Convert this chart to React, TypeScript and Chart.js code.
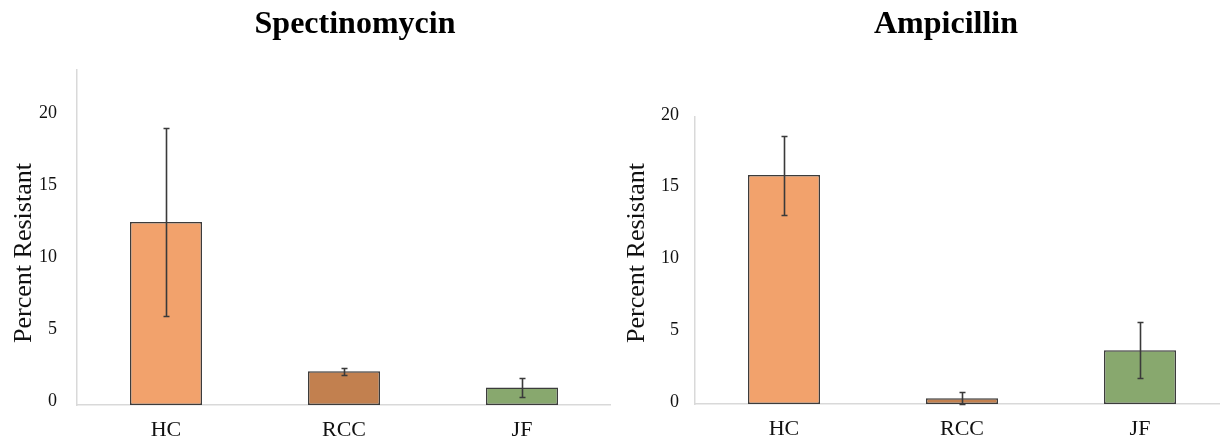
import React, { useEffect, useRef } from 'react';
import { Chart, registerables } from 'chart.js';

Chart.register(...registerables);

const FONT = "'Liberation Serif', 'Times New Roman', serif";

const categories = ['HC', 'RCC', 'JF'];
const spectinomycinMeans = [12.7, 2.35, 1.22];
const spectinomycinErrors = [6.5, 0.25, 0.65];
const ampicillinMeans = [15.95, 0.4, 3.75];
const ampicillinErrors = [2.75, 0.42, 1.95];
const barColors = ['#F2A26C', '#C2804F', '#88A86E'];
const yTickValues = [0, 5, 10, 15, 20];
const yAxisTitle = 'Percent Resistant';

const errorBarPlugin = {
  id: 'errorBars',
  afterDatasetsDraw(chart: any) {
    const { ctx } = chart;
    const y = chart.scales.y;
    chart.data.datasets.forEach((ds: any, di: number) => {
      const meta = chart.getDatasetMeta(di);
      const errs = ds.errors || [];
      meta.data.forEach((bar: any, i: number) => {
        const v = ds.data[i];
        const e = errs[i] || 0;
        const top = Math.round(y.getPixelForValue(v + e)) + 0.5;
        const bot = Math.round(y.getPixelForValue(Math.max(0, v - e))) + 0.5;
        const x = Math.round(bar.x) + 0.5;
        ctx.save();
        ctx.strokeStyle = '#3a3a3a';
        ctx.lineWidth = 1.6;
        ctx.beginPath();
        ctx.moveTo(x, top);
        ctx.lineTo(x, bot);
        ctx.moveTo(x - 3, top);
        ctx.lineTo(x + 3, top);
        ctx.moveTo(x - 3, bot);
        ctx.lineTo(x + 3, bot);
        ctx.stroke();
        ctx.restore();
      });
    });
  },
};

const fixedTextPlugin = {
  id: 'fixedText',
  afterDraw(chart: any, _args: any, opts: any) {
    const { ctx } = chart;
    ctx.save();
    ctx.font = `bold 32px ${FONT}`;
    ctx.fillStyle = '#000';
    ctx.textAlign = 'center';
    ctx.textBaseline = 'middle';
    ctx.fillText(opts.title, opts.titleX, opts.titleY);
    ctx.restore();

    ctx.save();
    ctx.font = `26px ${FONT}`;
    ctx.fillStyle = '#111';
    ctx.textAlign = 'center';
    ctx.textBaseline = 'middle';
    ctx.translate(opts.yTitleX, opts.yTitleY);
    ctx.rotate(-Math.PI / 2);
    ctx.fillText(yAxisTitle, 0, 0);
    ctx.restore();
  },
};

function makeConfig(p: {
  title: string;
  titleX: number;
  yTitleX: number;
  means: number[];
  errors: number[];
  max: number;
  topPad: number;
  yWidth: number;
  xHeight: number;
  tickPad: number;
  labelOffset: number;
}): any {
  return {
    type: 'bar',
    data: {
      labels: categories,
      datasets: [
        {
          data: p.means,
          errors: p.errors,
          backgroundColor: barColors,
          borderColor: '#3c3c3c',
          borderWidth: 1.5,
          borderSkipped: false,
          barPercentage: 0.405,
          categoryPercentage: 1,
        },
      ],
    },
    options: {
      responsive: false,
      animation: false,
      layout: { padding: { top: p.topPad, left: 0, right: 0, bottom: 0 } },
      plugins: {
        legend: { display: false },
        tooltip: { enabled: false },
        title: { display: false },
        fixedText: { title: p.title, titleX: p.titleX, titleY: 25, yTitleX: p.yTitleX, yTitleY: 253 },
      },
      scales: {
        x: {
          grid: { display: false, drawTicks: false, tickLength: 0 },
          border: { display: true, color: '#d9d9d9', width: 1.5 },
          ticks: { padding: 12, color: '#111', font: { family: FONT, size: 22 } },
          afterFit: (s: any) => {
            s.height = p.xHeight;
          },
        },
        y: {
          min: 0,
          max: p.max,
          grid: { display: false, drawTicks: false, tickLength: 0 },
          border: { display: true, color: '#d9d9d9', width: 1.5 },
          ticks: {
            padding: p.tickPad,
            labelOffset: p.labelOffset,
            color: '#111',
            font: { family: FONT, size: 18 },
          },
          afterBuildTicks: (s: any) => {
            s.ticks = yTickValues.map((v) => ({ value: v }));
          },
          afterFit: (s: any) => {
            s.width = p.yWidth;
          },
        },
      },
    },
    plugins: [errorBarPlugin, fixedTextPlugin],
  };
}

function BarChart(props: { width: number; left: number; config: any }) {
  const ref = useRef<HTMLCanvasElement | null>(null);
  useEffect(() => {
    if (!ref.current) return;
    const chart = new Chart(ref.current, props.config);
    return () => chart.destroy();
  }, []);
  return (
    <canvas
      ref={ref}
      width={props.width}
      height={445}
      style={{ position: 'absolute', left: props.left, top: 0, width: props.width, height: 445 }}
    />
  );
}

export default function App() {
  const leftCfg = makeConfig({
    title: 'Spectinomycin',
    titleX: 355,
    yTitleX: 24,
    means: spectinomycinMeans,
    errors: spectinomycinErrors,
    max: 23.25,
    topPad: 70,
    yWidth: 77,
    xHeight: 40,
    tickPad: 20,
    labelOffset: -4,
  });
  const rightCfg = makeConfig({
    title: 'Ampicillin',
    titleX: 334,
    yTitleX: 25,
    means: ampicillinMeans,
    errors: ampicillinErrors,
    max: 20,
    topPad: 117,
    yWidth: 83,
    xHeight: 41,
    tickPad: 16,
    labelOffset: -2,
  });
  return (
    <div
      style={{
        position: 'fixed',
        left: 0,
        top: 0,
        width: 1220,
        height: 445,
        overflow: 'hidden',
        background: '#fff',
      }}
    >
      <BarChart width={611} left={0} config={leftCfg} />
      <BarChart width={617} left={612} config={rightCfg} />
    </div>
  );
}
